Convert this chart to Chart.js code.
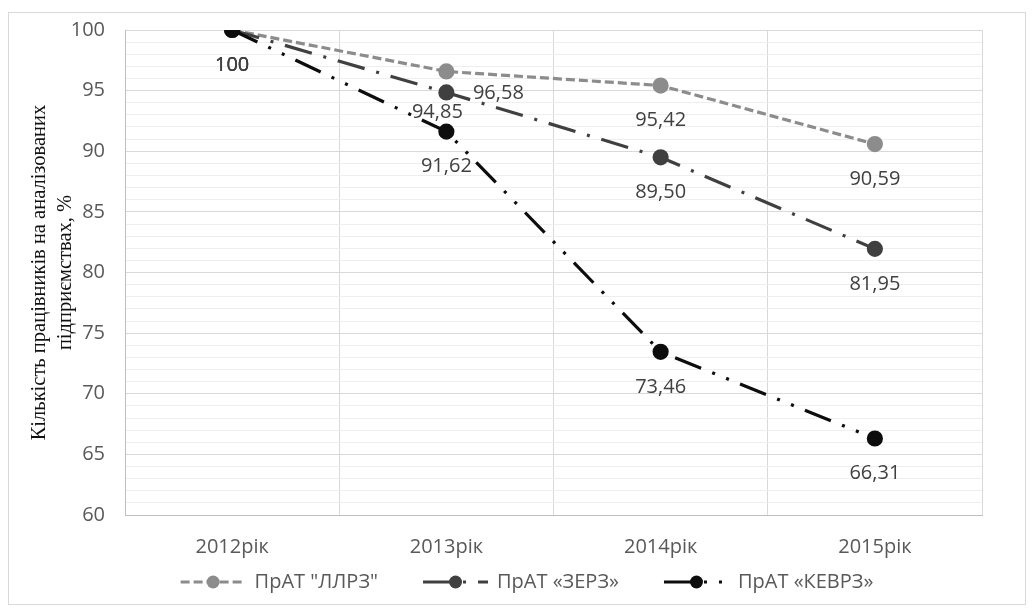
<!DOCTYPE html>
<html>
<head>
<meta charset="utf-8">
<script src="https://cdn.jsdelivr.net/npm/chart.js@4/dist/chart.umd.min.js"></script>
<style>
  html, body { margin: 0; padding: 0; background: #fff; }
  #box {
    position: absolute; left: 8px; top: 12px;
    width: 1018px; height: 593px;
    box-sizing: border-box; border: 1px solid #d9d9d9;
  }
</style>
</head>
<body>
<div id="box"><canvas id="myChart" width="1016" height="591"></canvas></div>
<script>
// chart data
const years = ['2012рік', '2013рік', '2014рік', '2015рік'];
const llrz = [100, 96.58, 95.42, 90.59];
const zerz = [100, 94.85, 89.50, 81.95];
const kevrz = [100, 91.62, 73.46, 66.31];
const seriesNames = ['ПрАТ "ЛЛРЗ"', 'ПрАТ «ЗЕРЗ»', 'ПрАТ «КЕВРЗ»'];
const yMin = 60, yMax = 100, yMajor = 5;

const tickFont = {family: "'Open Sans', sans-serif", size: 20};
const tickColor = '#595959';

// where each value label sits relative to its point (dataset index -> point index)
const labelShift = {
    0: {1: [52, 22]},
    1: {1: [-9, 20]}
};

function fmt(v) {
    if (v === 100) return '100';
    return v.toFixed(2).replace('.', ',');
}

const valueLabels = {
    id: 'valueLabels',
    afterDatasetsDraw(chart) {
        const ctx = chart.ctx;
        ctx.save();
        ctx.font = "20px 'Open Sans', sans-serif";
        ctx.fillStyle = '#404040';
        ctx.textAlign = 'center';
        ctx.textBaseline = 'middle';
        chart.data.datasets.forEach(function(ds, i) {
            const meta = chart.getDatasetMeta(i);
            meta.data.forEach(function(pt, j) {
                const s = (labelShift[i] && labelShift[i][j]) || [0, 35];
                ctx.fillText(fmt(ds.data[j]), pt.x + s[0], pt.y + s[1]);
            });
        });
        ctx.restore();
    }
};

const bottomLegend = {
    id: 'bottomLegend',
    afterDraw(chart) {
        const ctx = chart.ctx;
        ctx.save();
        ctx.font = "20px 'Open Sans', sans-serif";
        const sample = 65, gapText = 9, gapItem = 45;
        const widths = chart.data.datasets.map(ds => ctx.measureText(ds.label).width);
        let total = 0;
        widths.forEach(w => total += sample + gapText + w);
        total += gapItem * (widths.length - 1);
        let x = 518 - total / 2;
        const y = 569;
        chart.data.datasets.forEach(function(ds, i) {
            ctx.strokeStyle = ds.borderColor;
            ctx.lineWidth = ds.borderWidth;
            ctx.setLineDash(ds.borderDash);
            ctx.beginPath();
            ctx.moveTo(x, y);
            ctx.lineTo(x + sample, y);
            ctx.stroke();
            ctx.setLineDash([]);
            ctx.fillStyle = ds.pointBackgroundColor;
            ctx.beginPath();
            ctx.arc(x + sample / 2, y, ds.pointRadius, 0, Math.PI * 2);
            ctx.fill();
            ctx.fillStyle = tickColor;
            ctx.textAlign = 'left';
            ctx.textBaseline = 'middle';
            ctx.fillText(ds.label, x + sample + gapText, y);
            x += sample + gapText + widths[i] + gapItem;
        });
        ctx.restore();
    }
};

function lineSet(label, data, color, dash, order) {
    return {
        label: label,
        data: data,
        borderColor: color,
        backgroundColor: color,
        pointBackgroundColor: color,
        pointBorderColor: color,
        borderWidth: 3.2,
        borderDash: dash,
        borderCapStyle: 'butt',
        pointRadius: 6.5,
        pointHoverRadius: 6.5,
        tension: 0,
        fill: false,
        order: order
    };
}

document.addEventListener('DOMContentLoaded', function() {
    const myChart = document.getElementById('myChart');
    new Chart(myChart, {
        type: 'line',
        data: {
            labels: years,
            datasets: [
                lineSet(seriesNames[0], llrz, '#8c8c8c', [9, 4], 2),
                lineSet(seriesNames[1], zerz, '#404040', [28, 12, 3, 12], 1),
                lineSet(seriesNames[2], kevrz, '#0d0d0d', [28, 12, 3, 12, 3, 12], 0)
            ]
        },
        options: {
            responsive: false,
            animation: false,
            events: [],
            layout: {padding: {left: 0, top: 17, right: 43, bottom: 44}},
            plugins: {legend: {display: false}, tooltip: {enabled: false}},
            scales: {
                x: {
                    offset: true,
                    grid: {offset: true, color: '#d9d9d9', drawTicks: false},
                    border: {color: '#bfbfbf'},
                    ticks: {font: tickFont, color: tickColor, padding: 20},
                    afterFit: function(s) { s.height = 45; s.paddingLeft = 0; s.paddingRight = 0; }
                },
                y: {
                    min: yMin,
                    max: yMax,
                    ticks: {
                        stepSize: 1,
                        autoSkip: false,
                        font: tickFont,
                        color: tickColor,
                        padding: 20,
                        callback: function(v) { return v % yMajor === 0 ? v : ''; }
                    },
                    grid: {
                        drawTicks: false,
                        color: function(c) { return c.tick && c.tick.value % yMajor === 0 ? '#d9d9d9' : '#eeeeee'; }
                    },
                    border: {color: '#bfbfbf'},
                    title: {
                        display: true,
                        text: ['Кількість працівників на аналізованих', 'підприємствах, %'],
                        color: '#111',
                        font: {family: "'Liberation Serif', 'Times New Roman', serif", size: 20.5, lineHeight: 1.25},
                        padding: {top: 18, bottom: 0}
                    },
                    afterFit: function(s) { s.width = 116; s.paddingTop = 0; s.paddingBottom = 0; }
                }
            }
        },
        plugins: [valueLabels, bottomLegend]
    });
});
</script>
</body>
</html>
